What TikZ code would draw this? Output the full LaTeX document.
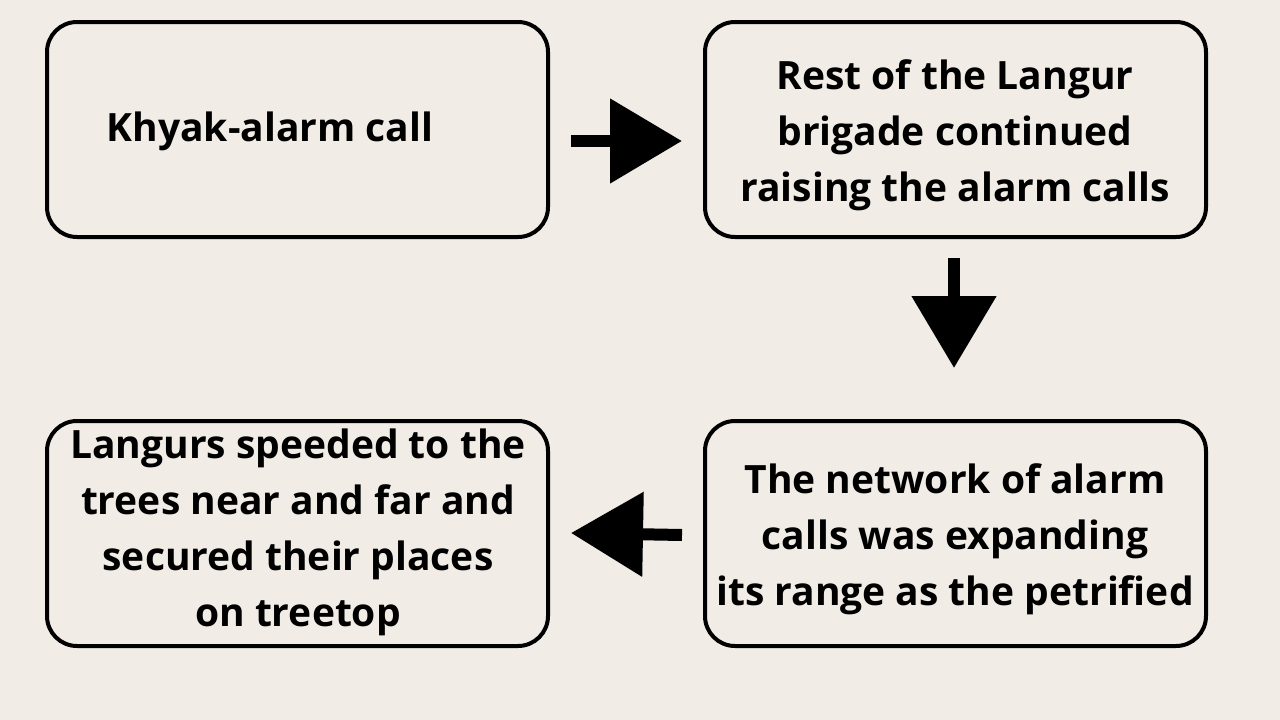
\documentclass[tikz,border=0pt]{standalone}
\usepackage{fontspec}
\setmainfont{Open Sans}
\usetikzlibrary{arrows.meta}
\definecolor{bg}{HTML}{F1ECE6}
\begin{document}
\begin{tikzpicture}[x=1pt,y=-1pt,
  box/.style={draw=black,line width=4pt,rounded corners=30pt,fill=bg},
  txt/.style={font=\fontsize{39}{56}\selectfont\bfseries,align=center,text=black},
  bigarrow/.style={line width=12pt,-{Triangle[length=72pt,width=82pt]}}]
\fill[bg] (0,0) rectangle (1280,720);
\useasboundingbox (0,0) rectangle (1280,720);
\draw[box] (47,22) rectangle (548,237);
\draw[box] (705,22) rectangle (1206,237);
\draw[box] (705,421) rectangle (1206,646);
\draw[box] (47,421) rectangle (548,646);
\node[txt] (t1) at (270,131) {Khyak-alarm call};
\node[txt] (t2) at (955,135) {Rest of the Langur\\brigade continued\\raising the alarm calls};
\node[txt] (t3) at (955,539) {The network of alarm\\calls was expanding\\its range as the petrified};
\node[txt] (t4) at (298,532) {Langurs speeded to the\\trees near and far and\\secured their places\\on treetop};
\coordinate (a1s) at (571,141); \coordinate (a1e) at (682,141);
\coordinate (a2s) at (954,258); \coordinate (a2e) at (954,368);
\coordinate (a3s) at (682,535); \coordinate (a3e) at (571,533);
\draw[bigarrow] (a1s) -- (a1e);
\draw[bigarrow] (a2s) -- (a2e);
\draw[bigarrow] (a3s) -- (a3e);
\end{tikzpicture}
\end{document}
